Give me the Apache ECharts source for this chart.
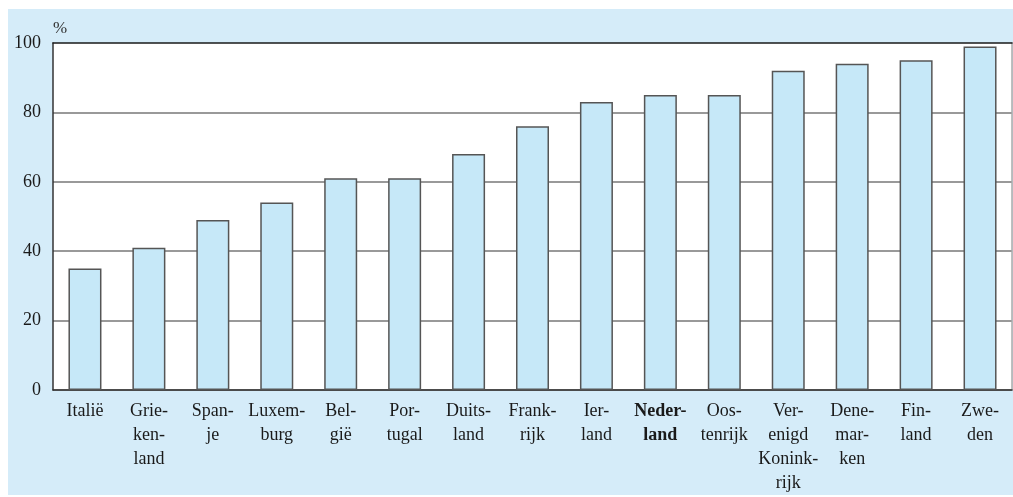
<!DOCTYPE html>
<html>
<head>
<meta charset="utf-8">
<script src="https://cdn.jsdelivr.net/npm/echarts@6/dist/echarts.min.js"></script>
<style>
  html, body { margin: 0; padding: 0; background: #fff; }
  #container { position: absolute; left: 8px; top: 9px; width: 1005px; height: 486px; background: #d5ecf9; }
</style>
</head>
<body>
<div id="container"></div>
<script>
// landen en percentages
var countries = ['Italië', 'Griekenland', 'Spanje', 'Luxemburg', 'België', 'Portugal', 'Duitsland',
    'Frankrijk', 'Ierland', 'Nederland', 'Oostenrijk', 'Verenigd Koninkrijk', 'Denemarken', 'Finland', 'Zweden'];
var labelLines = [
    ['Italië'], ['Grie-', 'ken-', 'land'], ['Span-', 'je'], ['Luxem-', 'burg'], ['Bel-', 'gië'],
    ['Por-', 'tugal'], ['Duits-', 'land'], ['Frank-', 'rijk'], ['Ier-', 'land'], ['Neder-', 'land'],
    ['Oos-', 'tenrijk'], ['Ver-', 'enigd', 'Konink-', 'rijk'], ['Dene-', 'mar-', 'ken'], ['Fin-', 'land'], ['Zwe-', 'den']
];
var values = [35, 41, 49, 54, 61, 61, 68, 76, 83, 85, 85, 92, 94, 95, 99];

var font = '"Liberation Serif", "DejaVu Serif", serif';

var option = {
    animation: false,
    grid: {
        left: 45,
        right: 1,
        top: 34,
        bottom: 105,
        show: true,
        backgroundColor: '#fff',
        borderWidth: 0
    },
    xAxis: [{
        type: 'category',
        data: countries,
        axisLine: { onZero: false, lineStyle: { color: '#333', width: 1.5 } },
        axisTick: { show: false },
        axisLabel: {
            interval: 0,
            margin: 9,
            color: '#1a1a1a',
            fontFamily: font,
            fontSize: 18,
            lineHeight: 24,
            formatter: function (value, index) {
                var lines = labelLines[index];
                if (value === 'Nederland') {
                    return lines.map(function (l) { return '{b|' + l + '}'; }).join('\n');
                }
                return lines.join('\n');
            },
            rich: {
                b: { fontWeight: 'bold', fontFamily: font, fontSize: 18, lineHeight: 24, color: '#1a1a1a' }
            }
        }
    }, {
        type: 'category',
        position: 'top',
        data: countries,
        axisLine: { onZero: false, lineStyle: { color: '#1a1a1a', width: 1.5 } },
        axisTick: { show: false },
        axisLabel: { show: false }
    }],
    yAxis: [{
        type: 'value',
        min: 0,
        max: 100,
        interval: 20,
        name: '%',
        nameLocation: 'end',
        nameGap: 6,
        nameTextStyle: { fontFamily: font, fontSize: 17, color: '#333', align: 'left' },
        axisLine: { show: true, lineStyle: { color: '#333', width: 1.5 } },
        axisTick: { show: false },
        axisLabel: { margin: 12, color: '#1a1a1a', fontFamily: font, fontSize: 18 },
        splitLine: { showMaxLine: false, lineStyle: { color: '#777', width: 1.5 } }
    }, {
        type: 'value',
        position: 'right',
        min: 0,
        max: 100,
        interval: 20,
        axisLine: { show: true, lineStyle: { color: '#aaa', width: 1.5 } },
        axisTick: { show: false },
        axisLabel: { show: false },
        splitLine: { show: false }
    }],
    series: [{
        type: 'bar',
        data: values,
        barWidth: 33,
        itemStyle: {
            color: '#c6e8f8',
            borderColor: '#555',
            borderWidth: 1.5
        }
    }]
};

var myChart = echarts.init(document.getElementById('container'));
myChart.setOption(option);
</script>
</body>
</html>
